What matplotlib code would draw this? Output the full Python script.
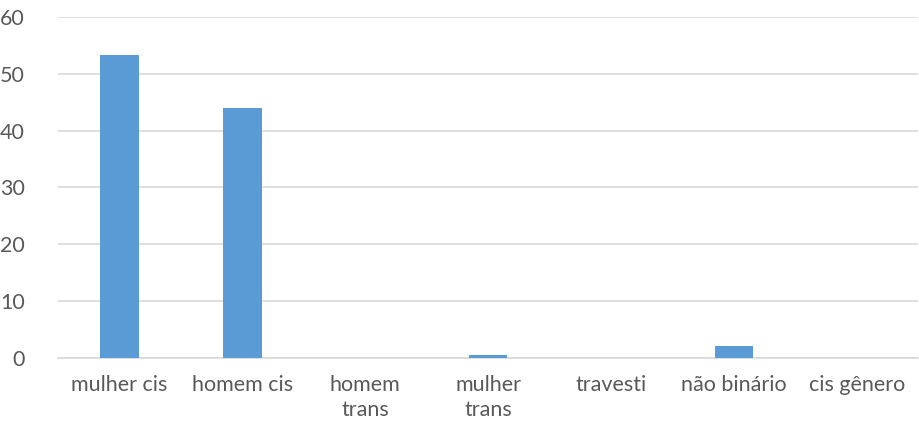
import matplotlib
matplotlib.use('Agg')
import matplotlib.pyplot as plt
import numpy as np

categories = ['mulher cis', 'homem cis', 'homem\ntrans', 'mulher\ntrans',
              'travesti', 'não binário', 'cis gênero']
values = [53.3, 44.0, 0.0, 0.5, 0.0, 2.1, 0.0]
yticks = [0, 10, 20, 30, 40, 50, 60]

plt.rcParams['font.family'] = ['Lato', 'DejaVu Sans']

fig = plt.figure(figsize=(9.2, 4.32), dpi=100)
ax = fig.add_axes([0.063, 0.171, 0.935, 0.79])

x = np.arange(len(categories))
ax.bar(x, values, width=0.313, color='#5B9BD5', zorder=3)

ax.set_xlim(-0.5, len(categories) - 0.5)
ax.set_ylim(0, 60)
ax.set_yticks(yticks)
ax.set_xticks(x)
ax.set_xticklabels(categories, linespacing=1.35)

ax.grid(axis='y', color='#D9D9D9', linewidth=1.2, zorder=0)
for s in ['top', 'right', 'left']:
    ax.spines[s].set_visible(False)
ax.spines['bottom'].set_color('#D9D9D9')
ax.spines['bottom'].set_linewidth(1.2)
ax.tick_params(axis='both', length=0, labelsize=15.5, colors='#595959')
ax.tick_params(axis='x', pad=12)
ax.tick_params(axis='y', pad=24)

fig.savefig('out.png', dpi=100, facecolor='white')
